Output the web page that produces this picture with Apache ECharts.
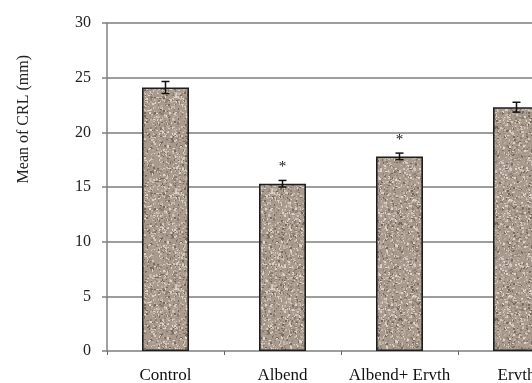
<!DOCTYPE html>
<html><head><meta charset="utf-8">
<script src="https://cdn.jsdelivr.net/npm/echarts@6/dist/echarts.min.js"></script>
<style>html,body{margin:0;padding:0;background:#fff}#c{width:532px;height:383px}</style>
</head><body><div id="c"></div>
<script>
var categories = ['Control', 'Albend', 'Albend+ Ervth', 'Ervth'];
var means = [24.1, 15.3, 17.8, 22.3];
var errors = [0.55, 0.3, 0.3, 0.45];
var marks = ['', '*', '*', ''];
var yTicks = [0, 5, 10, 15, 20, 25, 30];
var yName = 'Mean of CRL (mm)';

// granite-like texture (deterministic speckles)
var raw = document.createElement('canvas');
raw.width = 96; raw.height = 96;
var g = raw.getContext('2d');
g.fillStyle = '#a89b8e'; g.fillRect(0, 0, 96, 96);
var s = 12345;
function rnd() { s = (s * 1103515245 + 12345) % 2147483648; return s / 2147483648; }
var cols = ['#d2c8bd', '#c4b8ab', '#8c7f72', '#766a5e', '#b9ad9f', '#ddd4ca', '#9a8d80'];
for (var i = 0; i < 2200; i++) {
  g.fillStyle = cols[Math.floor(rnd() * cols.length)];
  var w = 1 + Math.floor(rnd() * 2), h = 1 + Math.floor(rnd() * 2);
  g.fillRect(Math.floor(rnd() * 96), Math.floor(rnd() * 96), w, h);
}
var tex = document.createElement('canvas');
tex.width = 96; tex.height = 96;
var t2 = tex.getContext('2d');
t2.filter = 'blur(0.5px)';
t2.drawImage(raw, 0, 0);

var font = 'Liberation Serif';
var chart = echarts.init(document.getElementById('c'), null, {renderer: 'canvas'});
var errData = means.map(function (m, i) { return [i, m, errors[i], marks[i]]; });
chart.setOption({
  animation: false,
  grid: {left: 107, top: 23, width: 468, height: 328, outerBoundsMode: 'none', containLabel: false},
  graphic: [{
    type: 'text', left: 16, top: 55, rotation: Math.PI / 2,
    style: {text: yName, font: '16px "' + font + '"', fill: '#222'}
  }],
  xAxis: {
    type: 'category', data: categories,
    axisLine: {show: false},
    axisTick: {show: true, inside: false, length: 4, lineStyle: {color: '#666', width: 1}},
    axisLabel: {fontFamily: font, fontSize: 17, color: '#111', margin: 16, interval: 0}
  },
  yAxis: {
    type: 'value', min: yTicks[0], max: yTicks[yTicks.length - 1], interval: 5,
    axisLine: {show: true, lineStyle: {color: '#808080', width: 1.5}},
    axisTick: {show: true, length: 5, lineStyle: {color: '#808080', width: 1.5}},
    axisLabel: {fontFamily: font, fontSize: 16, color: '#222', margin: 16},
    splitLine: {show: true, lineStyle: {color: '#7c7c7c', width: 1.5}}
  },
  series: [{
    type: 'bar', data: means, barWidth: 47,
    itemStyle: {color: {image: tex, repetition: 'repeat'}, borderColor: '#1e1e1e', borderWidth: 1.6}
  }, {
    type: 'custom', data: errData,
    renderItem: function (params, api) {
      var x = api.value(0), m = api.value(1), e = api.value(2);
      var lo = api.coord([x, m - e]), hi = api.coord([x, m + e]);
      var cw = 4;
      var st = {stroke: '#111', lineWidth: 1.5};
      var children = [
        {type: 'line', shape: {x1: lo[0], y1: lo[1], x2: hi[0], y2: hi[1]}, style: st},
        {type: 'line', shape: {x1: hi[0] - cw, y1: hi[1], x2: hi[0] + cw, y2: hi[1]}, style: st},
        {type: 'line', shape: {x1: lo[0] - cw, y1: lo[1], x2: lo[0] + cw, y2: lo[1]}, style: st}
      ];
      var mk = errData[params.dataIndex][3];
      if (mk) {
        children.push({type: 'text', x: hi[0], y: hi[1] - 13,
          style: {text: mk, font: '15px "' + font + '"', fill: '#111', align: 'center', verticalAlign: 'middle'}});
      }
      return {type: 'group', children: children};
    },
    z: 5
  }]
});
</script></body></html>
